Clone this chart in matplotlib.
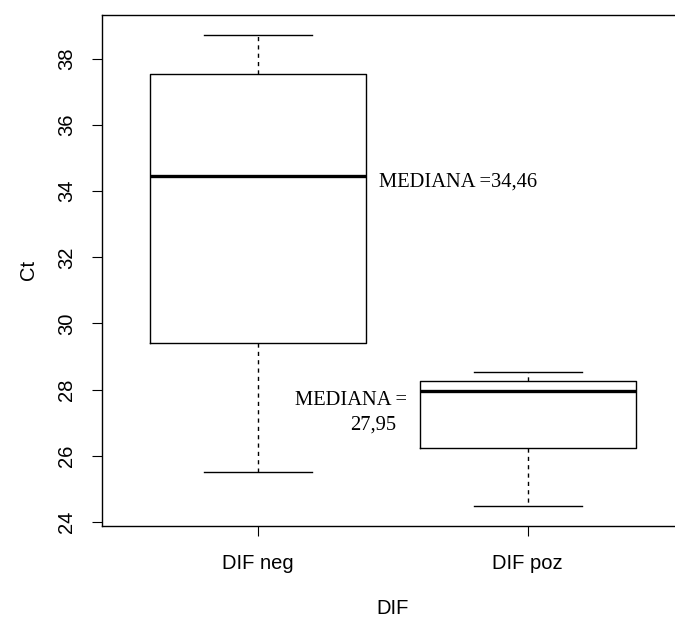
import numpy as np
import matplotlib
matplotlib.use("Agg")
import matplotlib.pyplot as plt

# Box summary values (Ct by DIF group)
groups = ["DIF neg", "DIF poz"]
whisk_lo = [25.52, 24.48]
q1 = [29.40, 26.24]
median = [34.46, 27.95]
q3 = [37.54, 28.26]
whisk_hi = [38.73, 28.54]
yticks = [24, 26, 28, 30, 32, 34, 36, 38]
median_labels = ["MEDIANA =34,46", "MEDIANA =", "27,95"]

plt.rcParams['font.family'] = ['Liberation Sans', 'DejaVu Sans']

fig = plt.figure(figsize=(6.75, 6.19), dpi=100)
ax = fig.add_axes([0.1507, 0.1507, 0.8627, 0.825])

stats = []
for i, g in enumerate(groups):
    stats.append(dict(label=g, med=median[i], q1=q1[i], q3=q3[i],
                      whislo=whisk_lo[i], whishi=whisk_hi[i], fliers=[]))

ax.bxp(stats, positions=[1, 2], widths=0.8, capwidths=0.4, showfliers=False,
       boxprops=dict(color="black", lw=1.0),
       medianprops=dict(color="black", lw=2.4, solid_capstyle="butt"),
       whiskerprops=dict(color="black", lw=1.0, linestyle=(0, (3, 3))),
       capprops=dict(color="black", lw=1.0))

ax.set_xlim(0.42, 2.58)
ax.set_ylim(23.88, 39.33)
ax.set_yticks(yticks)
ax.set_yticklabels([str(t) for t in yticks], rotation=90, va="center")
ax.tick_params(axis="both", length=7.5, width=0.8, labelsize=14.5, color="black")
ax.tick_params(axis="y", pad=11)
ax.tick_params(axis="x", pad=13)
for s in ax.spines.values():
    s.set_linewidth(1.0)

ax.set_xlabel("DIF", fontsize=14.5)
ax.xaxis.set_label_coords(0.5, -0.163)
ax.xaxis.label.set_va("center")
ax.set_ylabel("Ct", fontsize=14.5)
ax.yaxis.set_label_coords(-0.125, 0.5)
ax.yaxis.label.set_va("center")

serif = ['Liberation Serif', 'DejaVu Serif']
ax.text(1.449, 34.27, median_labels[0], family=serif, fontsize=14.8, ha="left", va="center")
ax.text(1.5525, 27.68, median_labels[1], family=serif, fontsize=14.8, ha="right", va="center")
ax.text(1.5117, 26.93, median_labels[2], family=serif, fontsize=14.8, ha="right", va="center")

fig.savefig("out.png", dpi=100)
